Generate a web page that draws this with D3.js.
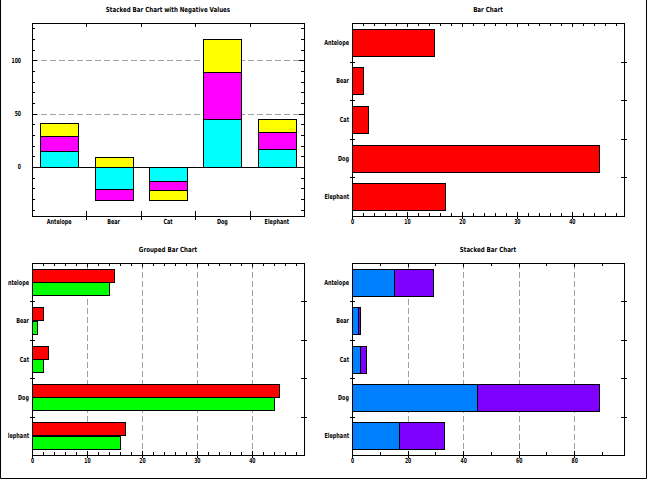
<!DOCTYPE html>
<html>
<head>
<meta charset="utf-8">
<script src="https://cdn.jsdelivr.net/npm/d3@7"></script>
<style>
html,body{margin:0;padding:0;background:#fff;}
svg{display:block;}
text{font-family:"Liberation Sans Narrow","DejaVu Sans Condensed","Liberation Sans",sans-serif;font-size:7px;font-weight:bold;fill:#000;}
</style>
</head>
<body>
<svg id="c" width="648" height="480"></svg>
<script>
// ---------- data ----------
const categories = ["Antelope", "Bear", "Cat", "Dog", "Elephant"];
const series1 = [15, 2, 3, 45, 17];
const series2 = [14, 1, 2, 44, 16];
const negSeries1 = [15, -21, -13, 45, 17];
const negSeries2 = [14, -10, -9, 44, 16];
const negSeries3 = [12, 9, -9, 31, 12];
const negTickLabels = [0, 50, 100];
const barTickLabels = [0, 10, 20, 30, 40];
const stackTickLabels = [0, 20, 40, 60, 80];
const titles = ["Stacked Bar Chart with Negative Values", "Bar Chart", "Grouped Bar Chart", "Stacked Bar Chart"];
const negColors = ["#00ffff", "#ff00ff", "#ffff00"];
const groupColors = ["#ff0000", "#00ff00"];
const stackColors = ["#0080ff", "#8000ff"];

const svg = d3.select("#c");

// outer border
svg.append("path").attr("d", "M0.5,0 V478.5 H646.5 V0")
  .attr("fill", "none").attr("stroke", "#000").attr("stroke-width", 1);

const P = {
  tl: {x0: 32, x1: 304, y0: 23, y1: 216},
  tr: {x0: 352, x1: 624, y0: 23, y1: 216},
  bl: {x0: 32, x1: 304, y0: 263, y1: 455},
  br: {x0: 352, x1: 624, y0: 263, y1: 455}
};

function line(g, x1, y1, x2, y2, color, dash) {
  const l = g.append("line")
    .attr("x1", x1).attr("y1", y1).attr("x2", x2).attr("y2", y2)
    .attr("stroke", color || "#000").attr("stroke-width", 1)
    .attr("shape-rendering", "crispEdges");
  if (dash) l.attr("stroke-dasharray", dash);
  return l;
}
function label(g, x, y, t, anchor, sx) {
  return g.append("text")
    .attr("transform", "translate(" + x + "," + y + ") scale(" + (sx || 0.78) + ",1)")
    .attr("text-anchor", anchor || "middle").text(t);
}
function frame(g, p) {
  g.append("rect").attr("x", p.x0 + 0.5).attr("y", p.y0 + 0.5)
    .attr("width", p.x1 - p.x0).attr("height", p.y1 - p.y0)
    .attr("fill", "none").attr("stroke", "#000").attr("stroke-width", 1)
    .attr("shape-rendering", "crispEdges");
}
function title(g, p, t, y) {
  label(g, (p.x0 + p.x1) / 2, y, t, "middle", 0.88);
}
const R = v => Math.round(v) + 0.5;

// numeric horizontal axis (bottom + mirrored top)
function numXAxis(g, p, x, majors, minorStep, maxVal) {
  for (let v = 0; v <= maxVal + 1e-9; v += minorStep) {
    const xx = R(x(v));
    const isMajor = majors.includes(Math.round(v * 1000) / 1000);
    if (isMajor) {
      line(g, xx, p.y1 - 4, xx, p.y1 + 3);
      line(g, xx, p.y0, xx, p.y0 + 4);
    } else {
      line(g, xx, p.y1 - 3, xx, p.y1);
      line(g, xx, p.y0, xx, p.y0 + 3);
    }
  }
  majors.forEach(v => label(g, x(v) + 0.5, p.y1 + 8, v, "middle", 0.72));
}
// category vertical axis (left labels, ticks between bands)
function catYAxis(g, p, y, labelX) {
  const step = y.step();
  categories.forEach((c, i) => {
    label(g, labelX, y(c) + y.bandwidth() / 2 + 2.5, c, "end");
    if (i > 0) {
      const yy = R(y(c) - step * y.paddingInner() / 2);
      line(g, p.x0 - 2, yy, p.x0 + 3, yy);
      line(g, p.x1 - 3, yy, p.x1 + 3, yy);
    }
  });
}

// ---------- panel 1: stacked with negative values ----------
(function () {
  const p = P.tl;
  const g = svg.append("g");
  const rows = categories.map((c, i) => ({cat: c, a: negSeries1[i], b: negSeries2[i], c3: negSeries3[i]}));
  const stack = d3.stack().keys(["a", "b", "c3"]).offset(d3.stackOffsetDiverging)(rows);
  const lo = d3.min(stack, s => d3.min(s, d => d[0]));
  const hi = d3.max(stack, s => d3.max(s, d => d[1]));
  const pad = (hi - lo) * 0.1;
  const y = d3.scaleLinear().domain([lo - pad, hi + pad]).range([p.y1, p.y0]);
  const x = d3.scaleBand().domain(categories).range([p.x0, p.x1]).paddingInner(0.3).paddingOuter(0.15);

  // grid
  negTickLabels.filter(v => v !== 0).forEach(v => line(g, p.x0, R(y(v)), p.x1, R(y(v)), "#a0a0a0", "6,3"));

  stack.forEach((s, k) => {
    g.selectAll(null).data(s).enter().append("rect")
      .attr("x", d => R(x(d.data.cat)))
      .attr("y", d => R(y(d[1])))
      .attr("width", Math.round(x.bandwidth()))
      .attr("height", d => Math.round(y(d[0])) - Math.round(y(d[1])))
      .attr("fill", negColors[k]).attr("stroke", "#000").attr("stroke-width", 1)
      .attr("shape-rendering", "crispEdges");
  });
  // zero baseline
  line(g, p.x0, R(y(0)), p.x1, R(y(0)));
  frame(g, p);

  // y ticks
  const start = Math.ceil((lo - pad) / 10) * 10;
  for (let v = start; v <= hi + pad; v += 10) {
    const yy = R(y(v));
    const major = negTickLabels.includes(v);
    const len = major ? 5 : 3;
    line(g, p.x0, yy, p.x0 + len, yy);
    line(g, p.x1 - len, yy, p.x1, yy);
  }
  negTickLabels.forEach(v => label(g, 21, y(v) + 2.5, v, "end", 0.72));
  // category ticks
  const step = x.step();
  categories.forEach((c, i) => {
    label(g, x(c) + x.bandwidth() / 2, p.y1 + 8, c, "middle");
    if (i > 0) {
      const xx = R(x(c) - step * x.paddingInner() / 2);
      line(g, xx, p.y1 - 5, xx, p.y1 + 4);
      line(g, xx, p.y0, xx, p.y0 + 4);
    }
  });
  title(g, p, titles[0], 12);
})();

// ---------- panel 2: bar chart ----------
(function () {
  const p = P.tr;
  const g = svg.append("g");
  const maxV = d3.max(series1) * 1.1;
  const x = d3.scaleLinear().domain([0, maxV]).range([p.x0, p.x1]);
  const y = d3.scaleBand().domain(categories).range([p.y0, p.y1]).paddingInner(0.3).paddingOuter(0.15);
  g.selectAll(null).data(categories).enter().append("rect")
    .attr("x", R(x(0)))
    .attr("y", d => R(y(d)))
    .attr("width", (d, i) => Math.round(x(series1[i])) - Math.round(x(0)))
    .attr("height", Math.round(y.bandwidth()))
    .attr("fill", groupColors[0]).attr("stroke", "#000").attr("stroke-width", 1)
    .attr("shape-rendering", "crispEdges");
  frame(g, p);
  numXAxis(g, p, x, barTickLabels, 2, maxV);
  catYAxis(g, p, y, p.x0 - 3);
  title(g, p, titles[1], 12);
})();

// ---------- panel 3: grouped bar chart ----------
(function () {
  const p = P.bl;
  const g = svg.append("g");
  const clipId = "clipBL";
  svg.append("defs").append("clipPath").attr("id", clipId)
    .append("rect").attr("x", 8).attr("y", 240).attr("width", 316).attr("height", 238);
  g.attr("clip-path", "url(#" + clipId + ")");
  const maxV = d3.max([...series1, ...series2]) * 1.1;
  const x = d3.scaleLinear().domain([0, maxV]).range([p.x0, p.x1]);
  const y = d3.scaleBand().domain(categories).range([p.y0, p.y1]).paddingInner(0.3).paddingOuter(0.15);
  const sub = d3.scaleBand().domain([0, 1]).range([0, y.bandwidth()]);
  barTickLabels.filter(v => v !== 0).forEach(v => line(g, R(x(v)), p.y0, R(x(v)), p.y1, "#a0a0a0", "6,3"));
  [series1, series2].forEach((s, k) => {
    g.selectAll(null).data(categories).enter().append("rect")
      .attr("x", R(x(0)))
      .attr("y", d => R(y(d) + sub(k)))
      .attr("width", (d, i) => Math.round(x(s[i])) - Math.round(x(0)))
      .attr("height", Math.round(sub.bandwidth()))
      .attr("fill", groupColors[k]).attr("stroke", "#000").attr("stroke-width", 1)
      .attr("shape-rendering", "crispEdges");
  });
  frame(g, p);
  numXAxis(g, p, x, barTickLabels, 2, maxV);
  catYAxis(g, p, y, p.x0 - 3);
  title(g, p, titles[2], 252);
})();

// ---------- panel 4: stacked bar chart ----------
(function () {
  const p = P.br;
  const g = svg.append("g");
  const rows = categories.map((c, i) => ({cat: c, a: series1[i], b: series2[i]}));
  const stack = d3.stack().keys(["a", "b"])(rows);
  const maxV = d3.max(stack[1], d => d[1]) * 1.1;
  const x = d3.scaleLinear().domain([0, maxV]).range([p.x0, p.x1]);
  const y = d3.scaleBand().domain(categories).range([p.y0, p.y1]).paddingInner(0.3).paddingOuter(0.15);
  stackTickLabels.filter(v => v !== 0).forEach(v => line(g, R(x(v)), p.y0, R(x(v)), p.y1, "#a0a0a0", "6,3"));
  stack.forEach((s, k) => {
    g.selectAll(null).data(s).enter().append("rect")
      .attr("x", d => R(x(d[0])))
      .attr("y", d => R(y(d.data.cat)))
      .attr("width", d => Math.round(x(d[1])) - Math.round(x(d[0])))
      .attr("height", Math.round(y.bandwidth()))
      .attr("fill", stackColors[k]).attr("stroke", "#000").attr("stroke-width", 1)
      .attr("shape-rendering", "crispEdges");
  });
  frame(g, p);
  numXAxis(g, p, x, stackTickLabels, 10, maxV);
  catYAxis(g, p, y, p.x0 - 3);
  title(g, p, titles[3], 252);
})();
</script>
</body>
</html>
